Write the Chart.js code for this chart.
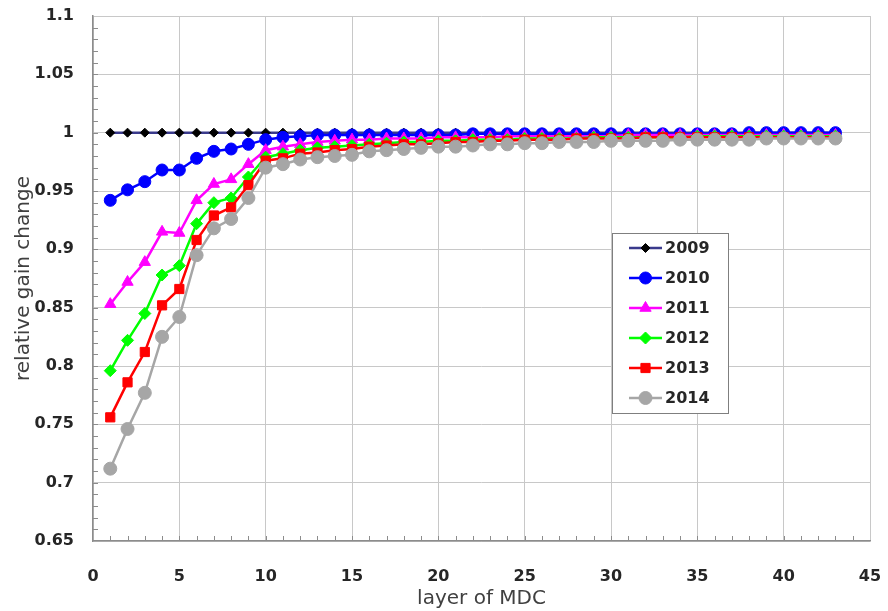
<!DOCTYPE html>
<html>
<head>
<meta charset="utf-8">
<script src="https://cdn.jsdelivr.net/npm/chart.js@4"></script>
<style>
  html, body { margin: 0; padding: 0; background: #fff; }
  #box { width: 888px; height: 611px; }
</style>
</head>
<body>
<div id="box"><canvas id="grafico"></canvas></div>
<script>
const layers = [1, 2, 3, 4, 5, 6, 7, 8, 9, 10, 11, 12, 13, 14, 15, 16, 17, 18, 19, 20, 21, 22,
  23, 24, 25, 26, 27, 28, 29, 30, 31, 32, 33, 34, 35, 36, 37, 38, 39, 40, 41, 42, 43];

const g2009 = [1, 1, 1, 1, 1, 1, 1, 1, 1, 1, 1, 1, 1, 1, 1, 1, 1, 1, 1, 1, 1, 1,
  1, 1, 1, 1, 1, 1, 1, 1, 1, 1, 1, 1, 1, 1, 1, 1, 1, 1, 1, 1, 1];
const g2010 = [0.942, 0.951, 0.958, 0.968, 0.968, 0.978, 0.984, 0.986, 0.990, 0.994, 0.996,
  0.997, 0.998, 0.998, 0.998, 0.998, 0.998, 0.998, 0.998, 0.998, 0.998, 0.999, 0.999, 0.999,
  0.999, 0.999, 0.999, 0.999, 0.999, 0.999, 0.999, 0.999, 0.999, 0.999, 0.999, 0.999, 0.999,
  1.0, 1.0, 1.0, 1.0, 1.0, 1.0];
const g2011 = [0.853, 0.872, 0.889, 0.915, 0.914, 0.942, 0.956, 0.960, 0.973, 0.985, 0.988,
  0.990, 0.992, 0.993, 0.994, 0.994, 0.995, 0.995, 0.995, 0.996, 0.996, 0.996, 0.996, 0.997,
  0.997, 0.997, 0.997, 0.997, 0.997, 0.997, 0.998, 0.998, 0.998, 0.998, 0.998, 0.998, 0.998,
  0.998, 0.998, 0.998, 0.998, 0.998, 0.998];
const g2012 = [0.796, 0.822, 0.845, 0.878, 0.886, 0.922, 0.940, 0.944, 0.962, 0.979, 0.982,
  0.985, 0.987, 0.988, 0.989, 0.990, 0.991, 0.992, 0.992, 0.993, 0.993, 0.994, 0.994, 0.994,
  0.995, 0.995, 0.995, 0.995, 0.996, 0.996, 0.996, 0.996, 0.996, 0.996, 0.997, 0.997, 0.997,
  0.997, 0.997, 0.997, 0.997, 0.997, 0.997];
const g2013 = [0.756, 0.786, 0.812, 0.852, 0.866, 0.908, 0.929, 0.936, 0.955, 0.976, 0.978,
  0.982, 0.983, 0.985, 0.986, 0.988, 0.989, 0.990, 0.990, 0.991, 0.992, 0.992, 0.993, 0.993,
  0.994, 0.994, 0.994, 0.995, 0.995, 0.995, 0.995, 0.996, 0.996, 0.996, 0.996, 0.996, 0.996,
  0.996, 0.996, 0.996, 0.996, 0.996, 0.996];
const g2014 = [0.712, 0.746, 0.777, 0.825, 0.842, 0.895, 0.918, 0.926, 0.944, 0.970, 0.973,
  0.977, 0.979, 0.980, 0.981, 0.984, 0.985, 0.986, 0.987, 0.988, 0.988, 0.989, 0.990, 0.990,
  0.991, 0.991, 0.992, 0.992, 0.992, 0.993, 0.993, 0.993, 0.993, 0.994, 0.994, 0.994, 0.994,
  0.994, 0.995, 0.995, 0.995, 0.995, 0.995];

const yTicks = [0.65, 0.7, 0.75, 0.8, 0.85, 0.9, 0.95, 1, 1.05, 1.1];
const xTicks = [0, 5, 10, 15, 20, 25, 30, 35, 40, 45];

function pontos(valores) {
  return layers.map((x, i) => ({ x, y: valores[i] }));
}

function serie(label, valores, cor, marcaCor, estilo, raio, ordem) {
  return {
    label,
    data: pontos(valores),
    borderColor: cor,
    backgroundColor: marcaCor,
    pointBackgroundColor: marcaCor,
    pointBorderColor: marcaCor,
    pointStyle: estilo,
    pointRadius: raio,
    pointBorderWidth: 1,
    borderWidth: 2.5,
    tension: 0,
    clip: false,
    order: ordem,
  };
}

const datasets = [
  serie("2009", g2009, "#3a3a8c", "#000000", "rectRot", 4.5, 5),
  serie("2010", g2010, "#0000ff", "#0000ff", "circle", 6, 4),
  serie("2011", g2011, "#ff00ff", "#ff00ff", "triangle", 6.5, 3),
  serie("2012", g2012, "#00ff00", "#00ff00", "rectRot", 6, 2),
  serie("2013", g2013, "#ff0000", "#ff0000", "rect", 6.5, 1),
  serie("2014", g2014, "#a6a6a6", "#a6a6a6", "circle", 6.5, 0),
];

// ticks menores e legenda dentro do grafico
const extras = {
  id: "extras",
  beforeDatasetsDraw(chart) {
    const { ctx, chartArea: a, scales } = chart;
    ctx.save();
    ctx.strokeStyle = "#8c8c8c";
    ctx.lineWidth = 1;
    ctx.beginPath();
    for (let v = 1; v < 45; v++) {
      const px = Math.round(scales.x.getPixelForValue(v)) + 0.5;
      ctx.moveTo(px, a.bottom);
      ctx.lineTo(px, a.bottom - 5);
    }
    for (let k = 66; k < 110; k++) {
      const py = Math.round(scales.y.getPixelForValue(k / 100)) + 0.5;
      ctx.moveTo(a.left, py);
      ctx.lineTo(a.left + 5, py);
    }
    ctx.stroke();
    ctx.restore();
  },
  afterDraw(chart) {
    const { ctx } = chart;
    const bx = 612, by = 233, bw = 116, bh = 180;
    ctx.save();
    ctx.fillStyle = "#ffffff";
    ctx.fillRect(bx, by, bw, bh);
    ctx.strokeStyle = "#7f7f7f";
    ctx.lineWidth = 1;
    ctx.strokeRect(bx + 0.5, by + 0.5, bw, bh);
    ctx.font = "bold 16px 'DejaVu Sans', sans-serif";
    ctx.textBaseline = "middle";
    chart.data.datasets.forEach((ds, i) => {
      const y = by + 15 + i * 30;
      ctx.strokeStyle = ds.borderColor;
      ctx.lineWidth = 2.5;
      ctx.beginPath();
      ctx.moveTo(629, y);
      ctx.lineTo(662, y);
      ctx.stroke();
      ctx.fillStyle = ds.pointBackgroundColor;
      ctx.strokeStyle = ds.pointBorderColor;
      ctx.lineWidth = 1;
      Chart.helpers.drawPoint(ctx, {
        pointStyle: ds.pointStyle,
        radius: ds.pointRadius,
        borderWidth: 1,
      }, 645.5, y);
      ctx.fillStyle = "#262626";
      ctx.fillText(ds.label, 665, y + 1);
    });
    ctx.restore();
  },
};

new Chart(document.getElementById("grafico"), {
  type: "line",
  data: { datasets },
  plugins: [extras],
  options: {
    responsive: true,
    maintainAspectRatio: false,
    animation: false,
    layout: { autoPadding: false, padding: { top: 16, right: 18, left: 0, bottom: 0 } },
    plugins: {
      legend: { display: false },
      tooltip: { enabled: false },
    },
    scales: {
      x: {
        type: "linear",
        min: 0,
        max: 45,
        afterBuildTicks: (s) => { s.ticks = xTicks.map((v) => ({ value: v })); },
        afterFit: (s) => { s.height = 70; s.paddingLeft = 0; s.paddingRight = 0; },
        grid: { color: "#c8c8c8", lineWidth: 1, drawTicks: false },
        border: { color: "#8c8c8c", width: 1.5 },
        ticks: {
          padding: 26,
          color: "#262626",
          font: { family: "'DejaVu Sans', sans-serif", size: 16, weight: "bold" },
        },
        title: {
          display: true,
          text: "layer of MDC",
          color: "#404040",
          padding: { top: -10, bottom: 0 },
          font: { family: "'DejaVu Sans', sans-serif", size: 20 },
        },
      },
      y: {
        type: "linear",
        min: 0.65,
        max: 1.1,
        afterBuildTicks: (s) => { s.ticks = yTicks.map((v) => ({ value: v })); },
        afterFit: (s) => { s.width = 93; s.paddingTop = 0; s.paddingBottom = 0; },
        grid: { color: "#c8c8c8", lineWidth: 1, drawTicks: false },
        border: { color: "#8c8c8c", width: 1.5 },
        ticks: {
          padding: 19,
          color: "#262626",
          callback: (v) => String(Number(v.toFixed(2))),
          font: { family: "'DejaVu Sans', sans-serif", size: 16, weight: "bold" },
        },
        title: {
          display: true,
          text: "relative gain change",
          color: "#404040",
          padding: { top: 12, bottom: 0 },
          font: { family: "'DejaVu Sans', sans-serif", size: 20 },
        },
      },
    },
  },
});
</script>
</body>
</html>
